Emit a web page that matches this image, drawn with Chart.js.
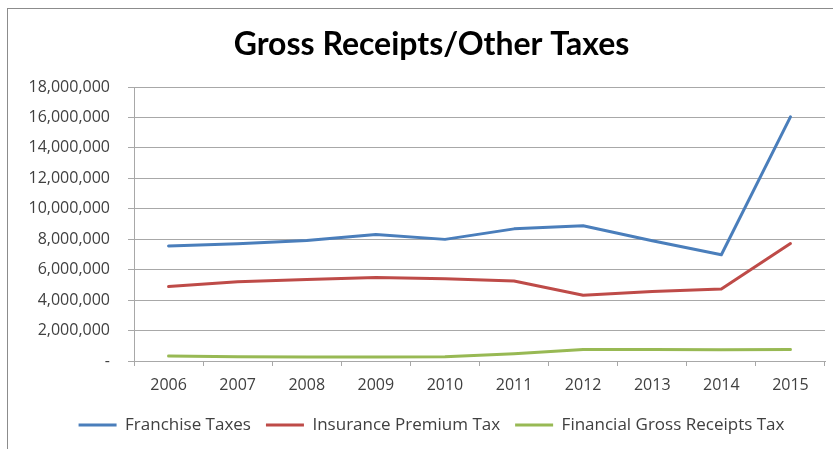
<!DOCTYPE html>
<html>
<head>
<meta charset="utf-8">
<title>Gross Receipts/Other Taxes</title>
<script src="https://cdn.jsdelivr.net/npm/chart.js@4/dist/chart.umd.min.js"></script>
<style>
  html, body { margin: 0; padding: 0; background: #fff; overflow: hidden; }
  #wrap { position: relative; width: 833px; height: 449px; overflow: hidden; }
  #frame { position: absolute; left: 7px; top: 8px; width: 900px; height: 500px; border: 1.5px solid #8c8c8c; box-sizing: border-box; }
  canvas { position: absolute; left: 0; top: 0; }
</style>
</head>
<body>
<div id="wrap">
  <div id="frame"></div>
  <canvas id="chart" width="833" height="449"></canvas>
</div>
<script>
const YEARS = ['2006','2007','2008','2009','2010','2011','2012','2013','2014','2015'];
const FRANCHISE = [7560000, 7700000, 7920000, 8310000, 7990000, 8680000, 8880000, 7900000, 6980000, 16040000];
const INSURANCE = [4890000, 5210000, 5350000, 5480000, 5410000, 5260000, 4320000, 4560000, 4730000, 7720000];
const FIN_GROSS = [330000, 280000, 260000, 260000, 280000, 480000, 760000, 760000, 740000, 760000];

const FONT = '"Open Sans", "Noto Sans", sans-serif';
const TITLE_FONT = 'Lato, "Open Sans", sans-serif';
const TEXT = '#404040';
const GRID = '#a8a8a8';

const fmtTick = v => v === 0 ? '-' : v.toLocaleString('en-US');

const series = [
  { label: 'Franchise Taxes',              data: FRANCHISE, color: '#4a7ebb' },
  { label: 'Insurance Premium Tax',        data: INSURANCE, color: '#be4b48' },
  { label: 'Financial Gross Receipts Tax', data: FIN_GROSS, color: '#98b954' },
];

// title and legend sit a little right of the padded box centre
const shiftBlocks = {
  id: 'shiftBlocks',
  afterLayout(chart) {
    [chart.titleBlock, chart.legend].forEach(b => {
      if (b) { b.left += 9; b.right += 9; }
    });
  }
};

new Chart(document.getElementById('chart'), {
  type: 'line',
  data: {
    labels: YEARS,
    datasets: series.map(s => ({
      label: s.label,
      data: s.data,
      borderColor: s.color,
      backgroundColor: s.color,
      borderWidth: 3,
      pointRadius: 0,
      tension: 0,
      borderCapStyle: 'round',
      borderJoinStyle: 'round',
      fill: false
    }))
  },
  plugins: [shiftBlocks],
  options: {
    responsive: false,
    animation: false,
    layout: { padding: { left: 20, right: 8, top: 0, bottom: 5.5 } },
    plugins: {
      title: {
        display: true,
        text: 'Gross Receipts/Other Taxes',
        color: '#000',
        font: { family: TITLE_FONT, size: 32, weight: 'bold' },
        padding: { top: 25, bottom: 23.6 }
      },
      legend: {
        position: 'bottom',
        labels: {
          boxWidth: 38,
          boxHeight: 3,
          padding: 15,
          color: TEXT,
          font: { family: FONT, size: 17 },
          generateLabels(chart) {
            const items = Chart.defaults.plugins.legend.labels.generateLabels(chart);
            items.forEach(i => { i.lineWidth = 0; });
            return items;
          }
        }
      },
      tooltip: { enabled: false }
    },
    scales: {
      x: {
        offset: true,
        afterFit: scale => { scale.height = 40.5; },
        grid: { offset: true, drawOnChartArea: false, drawTicks: true, tickLength: 5, color: GRID },
        border: { color: GRID, width: 1 },
        ticks: { color: TEXT, font: { family: FONT, size: 16 }, padding: 9.5, maxRotation: 0 }
      },
      y: {
        min: 0,
        max: 18000000,
        afterFit: scale => { scale.width = 114; },
        grid: { color: GRID, lineWidth: 1, tickLength: 6 },
        border: { color: GRID, width: 1 },
        ticks: { stepSize: 2000000, color: TEXT, font: { family: FONT, size: 16 }, padding: 18, callback: fmtTick }
      }
    }
  }
});
</script>
</body>
</html>
